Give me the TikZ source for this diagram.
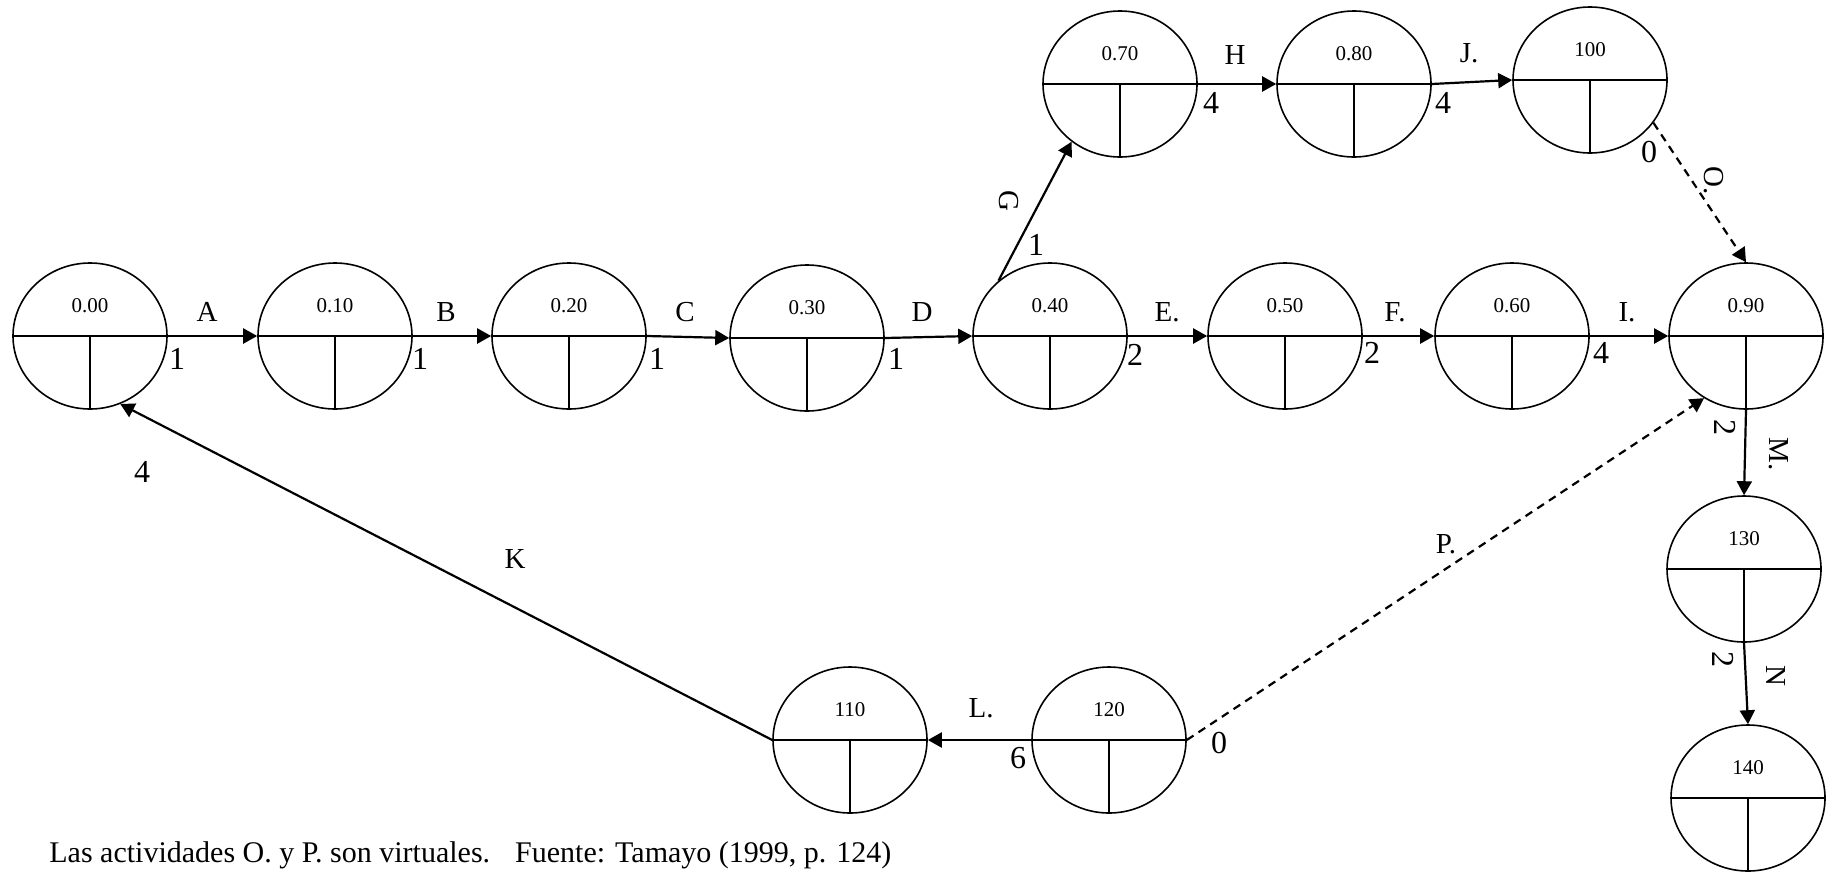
\documentclass[tikz,border=0pt]{standalone}
\usepackage{fontspec}
\setmainfont{Liberation Serif}
\usetikzlibrary{shapes.geometric,arrows.meta}
\tikzset{
  ev/.style={ellipse,draw,line width=0.8pt,minimum width=77pt,minimum height=73pt,inner sep=0pt},
  div/.style={line width=0.7pt},
  evtext/.style={font=\fontsize{10.5}{12}\selectfont,inner sep=0pt},
  act/.style={line width=1.1pt,-{Triangle[length=7pt,width=7.5pt]}},
  virt/.style={act,dash pattern=on 4pt off 3pt},
  lab/.style={font=\fontsize{14.5}{16}\selectfont,inner sep=0pt},
  wt/.style={font=\fontsize{16}{18}\selectfont,inner sep=0pt},
  rlab/.style={lab,rotate=-90},
  rwt/.style={wt,rotate=-90},
  captext/.style={font=\fontsize{15}{17}\selectfont,inner sep=0pt}
}
\newcommand\evnode[4]{%
  \node[ev] (#1) at (#2,#3) {};
  \draw[div] (#1.west) -- (#1.east) (#1.center) -- (#1.south);
  \node[evtext] (#1t) at ([yshift=15pt]#1.center) {#4};
}
\begin{document}
\begin{tikzpicture}[x=0.5pt,y=-0.5pt]
\useasboundingbox (0,0) rectangle (1835,873);
\evnode{n00}{90}{336}{0.00}
\evnode{n10}{335}{336}{0.10}
\evnode{n20}{569}{336}{0.20}
\evnode{n30}{807}{338}{0.30}
\evnode{n40}{1050}{336}{0.40}
\evnode{n50}{1285}{336}{0.50}
\evnode{n60}{1512}{336}{0.60}
\evnode{n90}{1746}{336}{0.90}
\evnode{n70}{1120}{84}{0.70}
\evnode{n80}{1354}{84}{0.80}
\evnode{n100}{1590}{80}{100}
\evnode{n130}{1744}{569}{130}
\evnode{n140}{1748}{798}{140}
\evnode{n110}{850}{740}{110}
\evnode{n120}{1109}{740}{120}

\draw[act] (n00.east) -- (n10.west);
\draw[act] (n10.east) -- (n20.west);
\draw[act] (n20.east) -- (n30.west);
\draw[act] (n30.east) -- (n40.west);
\draw[act] (n40.east) -- (n50.west);
\draw[act] (n50.east) -- (n60.west);
\draw[act] (n60.east) -- (n90.west);
\draw[act] (n40.133) -- (n70.230);
\draw[act] (n70.east) -- (n80.west);
\draw[act] (n80.east) -- (n100.west);
\draw[virt] (n100.326) -- (n90.north);
\draw[act] (n90.south) -- (n130.north);
\draw[act] (n130.south) -- (n140.north);
\draw[virt] (n120.east) -- (n90.236);
\draw[act] (n120.west) -- (n110.east);
\draw[act] (n110.west) -- (n00.294);

\node[lab] (lA) at (207,312) {A};
\node[wt] (wA) at (177,359) {1};
\node[lab] (lB) at (446,312) {B};
\node[wt] (wB) at (420,359) {1};
\node[lab] (lC) at (685,312) {C};
\node[wt] (wC) at (657,359) {1};
\node[lab] (lD) at (922,312) {D};
\node[wt] (wD) at (896,359) {1};
\node[lab] (lE) at (1167,312) {E.};
\node[wt] (wE) at (1135,355) {2};
\node[lab] (lF) at (1395,312) {F.};
\node[wt] (wF) at (1372,353) {2};
\node[lab] (lI) at (1627,312) {I.};
\node[wt] (wI) at (1601,353) {4};
\node[rlab] (lG) at (1009,201) {G};
\node[wt] (wG) at (1036,245) {1};
\node[lab] (lH) at (1235,55) {H};
\node[wt] (wH) at (1211,103) {4};
\node[lab] (lJ) at (1469,53) {J.};
\node[wt] (wJ) at (1443,103) {4};
\node[rlab] (lO) at (1714,181) {O.};
\node[wt] (wO) at (1649,152) {0};
\node[rlab] (lM) at (1779,454) {M.};
\node[rwt] (wM) at (1725,427) {2};
\node[rlab] (lN) at (1776,676) {N};
\node[rwt] (wN) at (1723,659) {2};
\node[lab] (lP) at (1446,544) {P.};
\node[wt] (wP) at (1219,743) {0};
\node[lab] (lL) at (981,708) {L.};
\node[wt] (wL) at (1018,758) {6};
\node[lab] (lK) at (515,559) {K};
\node[wt] (wK) at (142,472) {4};
\node[captext,anchor=west] (cap) at (49,855) {Las actividades O. y P. son virtuales.\hspace{0.5em} Fuente: Tamayo (1999, p. 124)};
\end{tikzpicture}
\end{document}
